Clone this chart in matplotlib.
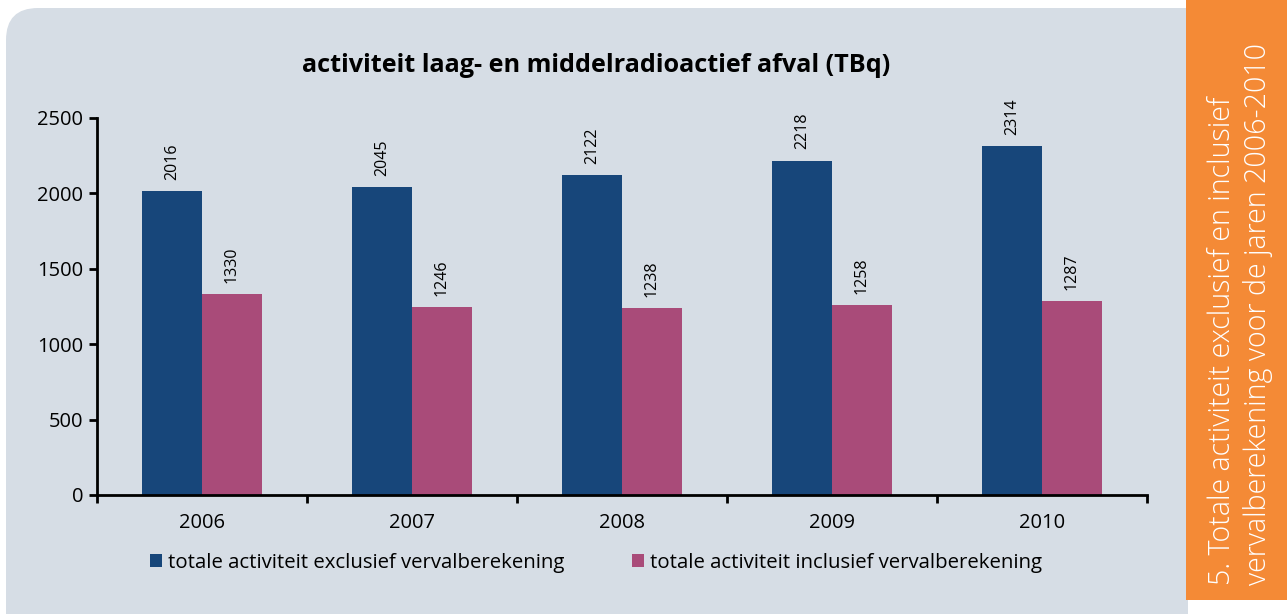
import matplotlib.pyplot as plt
from matplotlib.patches import FancyBboxPatch, Rectangle
from matplotlib.ticker import FixedLocator
import numpy as np

plt.rcParams['font.family'] = ['Open Sans', 'DejaVu Sans']

years = ['2006', '2007', '2008', '2009', '2010']
exclusief = [2016, 2045, 2122, 2218, 2314]
inclusief = [1330, 1246, 1238, 1258, 1287]
series_names = ['totale activiteit exclusief vervalberekening',
                'totale activiteit inclusief vervalberekening']
title = 'activiteit laag- en middelradioactief afval (TBq)'
side_lines = ['5. Totale activiteit exclusief en inclusief',
              'vervalberekening voor de jaren 2006-2010']

navy = '#17467a'
pink = '#a94b79'
panel = '#d6dde5'
orange = '#f48a36'

W, H = 1287, 614
fig = plt.figure(figsize=(W / 100, H / 100), dpi=100)
fig.patch.set_facecolor('white')

# grijs paneel met afgeronde hoek linksboven (pixelcoordinaten)
fig.patches.append(FancyBboxPatch((6, -100), 1182, H - 8 + 100,
                                  boxstyle='round,pad=0,rounding_size=32',
                                  facecolor=panel, edgecolor='none',
                                  transform=None, zorder=-2))
fig.patches.append(Rectangle((600, 0), 588, H - 8, facecolor=panel,
                             edgecolor='none', transform=None, zorder=-2))
# oranje zijbalk
fig.patches.append(Rectangle((1186, 14), W - 1186, H - 14, facecolor=orange,
                             edgecolor='none', transform=None, zorder=1))

ax = fig.add_axes([97 / W, 119 / H, (1147 - 97) / W, (495 - 118) / H])
ax.set_facecolor('none')

x = np.arange(len(years))
w = 0.286
b1 = ax.bar(x - w / 2, exclusief, w, color=navy, label=series_names[0])
b2 = ax.bar(x + w / 2, inclusief, w, color=pink, label=series_names[1])

for bars in (b1, b2):
    for rect in bars:
        ax.annotate(f'{int(rect.get_height())}',
                    (rect.get_x() + rect.get_width() / 2, rect.get_height()),
                    xytext=(0, 8), textcoords='offset points',
                    rotation=90, ha='center', va='bottom', fontsize=11.5)

ax.set_xlim(-0.5, len(years) - 0.5)
ax.set_ylim(0, 2500)
ax.set_yticks(range(0, 2501, 500))
ax.set_xticks(x)
ax.set_xticklabels(years)
ax.xaxis.set_minor_locator(FixedLocator(np.arange(-0.5, len(years), 1)))
ax.tick_params(axis='x', which='major', length=0, pad=13, labelsize=14.5)
ax.tick_params(axis='x', which='minor', length=6, width=2, direction='out')
ax.tick_params(axis='y', length=6, width=2, direction='out', labelsize=14.5, pad=4)

for s in ('top', 'right'):
    ax.spines[s].set_visible(False)
for s in ('left', 'bottom'):
    ax.spines[s].set_linewidth(2)

fig.text(596 / W, 1 - 66 / H, title, ha='center', va='center',
         fontsize=18.2, fontweight='bold')

fig.legend(handles=[b1, b2], loc='center', bbox_to_anchor=(596 / W, 1 - 563 / H),
           ncol=2, frameon=False, fontsize=14.7, handlelength=0.6,
           handleheight=0.6, handletextpad=0.3, columnspacing=3.3)

fig.text(1222 / W, 1 - 585 / H, side_lines[0], rotation=90, rotation_mode='anchor',
         ha='left', va='center', color='white', fontsize=20.6, fontweight='light')
fig.text(1258 / W, 1 - 585 / H, side_lines[1], rotation=90, rotation_mode='anchor',
         ha='left', va='center', color='white', fontsize=20.6, fontweight='light')

fig.savefig('out.png', dpi=100, facecolor=fig.get_facecolor())
plt.close(fig)
